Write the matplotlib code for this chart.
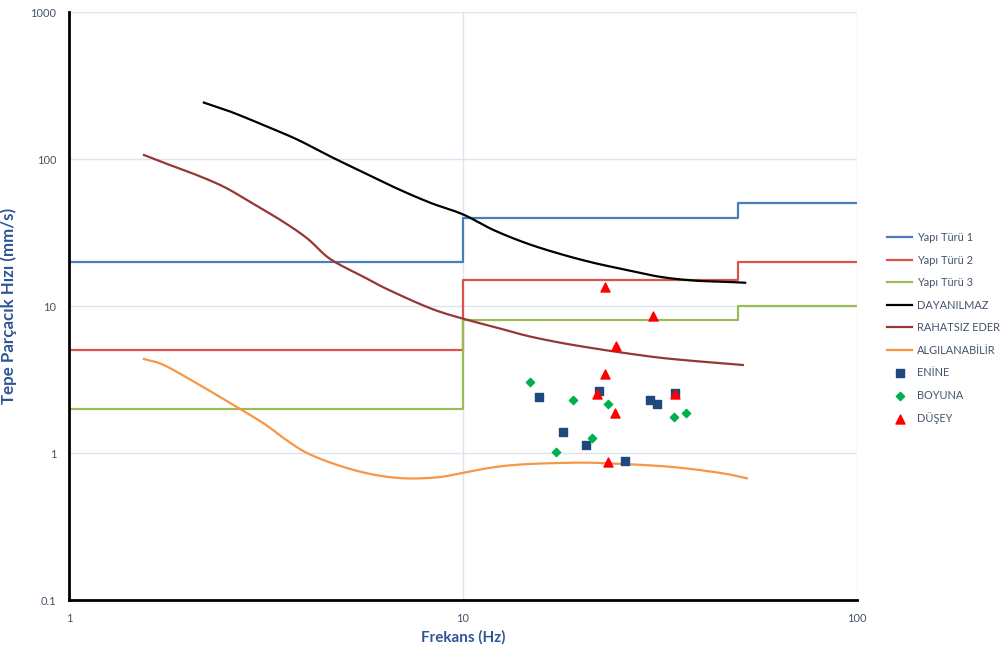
import numpy as np
import matplotlib
matplotlib.use("Agg")
from matplotlib import pyplot as plt
from matplotlib.ticker import FixedLocator, NullLocator

plt.rcParams["font.family"] = ["Lato", "DejaVu Sans"]

# limit values per structure type (step lines, frequency break at 10 and 50 Hz)
step_f = [1, 10, 50, 100]
yapi_1 = [20, 40, 50, 50]
yapi_2 = [5, 15, 20, 20]
yapi_3 = [2, 8, 10, 10]

# human perception curves
dayan_f = [2.2, 2.57, 3.12, 3.79, 4.61, 5.59, 6.8, 8.26, 10.0, 11.95, 14.5, 17.65,
           21.4, 26.0, 31.6, 38.5, 46.7, 52.0]
dayan_v = [242, 210, 170, 136, 104, 81, 63, 50.4, 42, 32.9, 26.7, 22.6,
           19.7, 17.6, 15.8, 14.9, 14.6, 14.4]

rahat_f = [1.55, 1.74, 2.11, 2.47, 2.83, 3.44, 4.02, 4.6, 5.59, 6.41, 8.26,
           10.0, 11.95, 14.5, 17.65, 21.4, 26.0, 31.6, 38.5, 51.3]
rahat_v = [106.5, 94.4, 77.8, 64.8, 52.6, 38.5, 28.9, 20.9, 15.8, 13.05, 9.65,
           8.2, 7.23, 6.28, 5.63, 5.16, 4.77, 4.45, 4.23, 3.97]

algi_f = [1.55, 1.74, 2.11, 2.57, 3.12, 3.54, 4.02, 4.79, 5.82, 7.07, 8.59, 9.84,
          11.95, 14.5, 19.45, 23.6, 31.6, 38.5, 46.7, 52.5]
algi_v = [4.36, 3.97, 2.98, 2.18, 1.59, 1.24, 1.0, 0.83, 0.72, 0.673, 0.683, 0.727,
          0.80, 0.84, 0.86, 0.85, 0.816, 0.775, 0.72, 0.673]

# measured peak particle velocities
enine_f = [15.6, 22.1, 17.9, 20.5, 29.9, 31.0, 34.6, 25.7]
enine_v = [2.40, 2.64, 1.39, 1.13, 2.29, 2.15, 2.56, 0.88]

boyuna_f = [14.8, 19.0, 23.3, 21.2, 17.2, 34.4, 36.9]
boyuna_v = [3.04, 2.29, 2.15, 1.26, 1.02, 1.76, 1.87]

dusey_f = [22.9, 30.4, 24.5, 22.9, 21.9, 24.3, 34.6, 23.4]
dusey_v = [13.5, 8.55, 5.35, 3.45, 2.52, 1.87, 2.52, 0.87]

txt_col = "#44546a"
lbl_col = "#2f5597"
grid_col = "#dbe5f1"


def smooth_loglog(f, v, n=12):
    # catmull-rom through the points in log-log space, like a smoothed excel line
    p = np.column_stack([np.log10(f), np.log10(v)])
    p = np.vstack([2 * p[0] - p[1], p, 2 * p[-1] - p[-2]])
    out = []
    t = np.linspace(0, 1, n, endpoint=False)[:, None]
    for i in range(1, len(p) - 2):
        p0, p1, p2, p3 = p[i - 1], p[i], p[i + 1], p[i + 2]
        seg = 0.5 * ((2 * p1) + (-p0 + p2) * t + (2 * p0 - 5 * p1 + 4 * p2 - p3) * t ** 2
                     + (-p0 + 3 * p1 - 3 * p2 + p3) * t ** 3)
        out.append(seg)
    out.append(p[-2][None, :])
    out = np.vstack(out)
    return 10 ** out[:, 0], 10 ** out[:, 1]


fig = plt.figure(figsize=(10.01, 6.5), dpi=100)
ax = fig.add_axes([0.0689, 0.0769, 0.7873, 0.9046])

ax.step(step_f, yapi_1, where="post", color="#4a7ebb", lw=1.6, label="Yapı Türü 1")
ax.step(step_f, yapi_2, where="post", color="#d9534f", lw=1.6, label="Yapı Türü 2")
ax.step(step_f, yapi_3, where="post", color="#9bbb59", lw=1.6, label="Yapı Türü 3")
ax.plot(*smooth_loglog(dayan_f, dayan_v), color="black", lw=1.6, label="DAYANILMAZ")
ax.plot(*smooth_loglog(rahat_f, rahat_v), color="#953735", lw=1.6, label="RAHATSIZ EDER")
ax.plot(*smooth_loglog(algi_f, algi_v), color="#f79646", lw=1.6, label="ALGILANABİLİR")

ax.scatter(enine_f, enine_v, marker="s", s=26, color="#1f497d", zorder=5, label="ENİNE")
ax.scatter(boyuna_f, boyuna_v, marker="D", s=18, color="#00b050", zorder=5, label="BOYUNA")
ax.scatter(dusey_f, dusey_v, marker="^", s=42, color="#ff0000", zorder=5, label="DÜŞEY")

ax.set_xscale("log")
ax.set_yscale("log")
ax.set_xlim(1, 100)
ax.set_ylim(0.1, 1000)

ax.xaxis.set_major_locator(FixedLocator([1, 10, 100]))
ax.yaxis.set_major_locator(FixedLocator([0.1, 1, 10, 100, 1000]))
ax.xaxis.set_minor_locator(NullLocator())
ax.yaxis.set_minor_locator(NullLocator())
ax.set_xticklabels(["1", "10", "100"])
ax.set_yticklabels(["0.1", "1", "10", "100", "1000"])
ax.tick_params(axis="both", length=0, labelsize=8, labelcolor=txt_col)
ax.tick_params(axis="x", pad=9)
ax.tick_params(axis="y", pad=9)

ax.grid(True, which="major", color=grid_col, lw=1.0)
ax.set_axisbelow(True)
for side in ["top", "right"]:
    ax.spines[side].set_visible(False)
for side in ["left", "bottom"]:
    ax.spines[side].set_color("black")
    ax.spines[side].set_linewidth(2.0)

ax.set_xlabel("Frekans (Hz)", fontsize=11, fontweight="bold", color=lbl_col, labelpad=5)
ax.set_ylabel("Tepe Parçacık Hızı (mm/s)", fontsize=12.2, fontweight="bold", color=lbl_col)
ax.yaxis.set_label_coords(-0.066, 0.5)

leg = ax.legend(loc="upper left", bbox_to_anchor=(887 / 1001, 1 - 232 / 650),
                bbox_transform=fig.transFigure, frameon=False, fontsize=7.9,
                handlelength=2.3, handletextpad=0.4, labelspacing=1.05,
                borderaxespad=0, borderpad=0)
for t in leg.get_texts():
    t.set_color(txt_col)

fig.savefig("out.png", dpi=100)
